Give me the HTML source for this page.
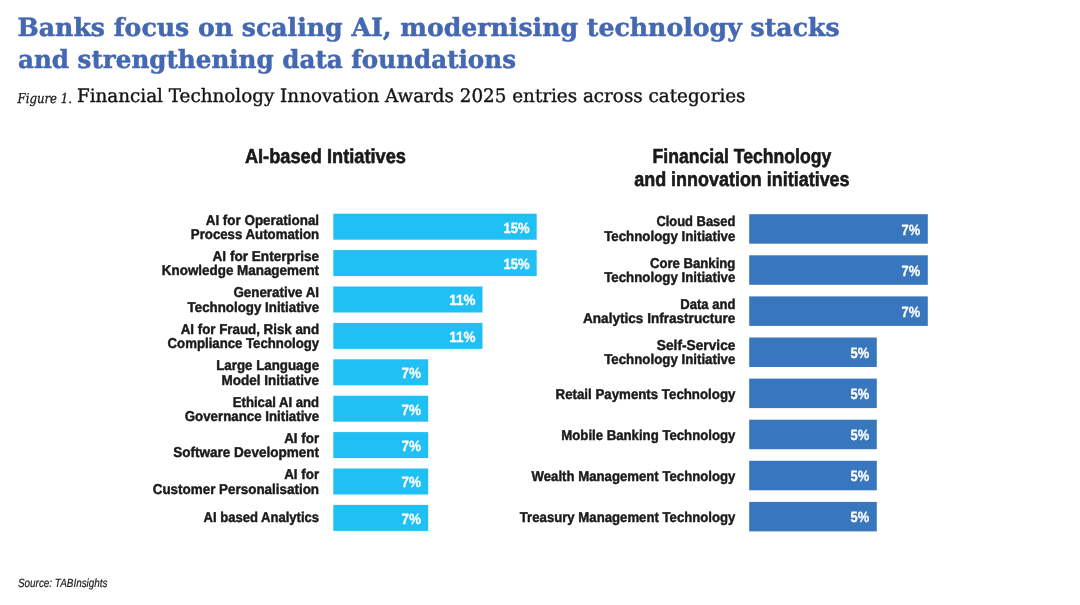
<!DOCTYPE html>
<html lang="en">
<head>
<meta charset="utf-8">
<title>Banks focus on scaling AI</title>
<style>
html,body{margin:0;padding:0;background:#fff;}
body{width:1080px;height:605px;overflow:hidden;}
svg{display:block;}
text{text-rendering:geometricPrecision;}
</style>
</head>
<body>
<svg width="1080" height="605" viewBox="0 0 1080 605">
<rect width="1080" height="605" fill="#ffffff"/>
<text x="17.5" y="36.4" font-family='"DejaVu Serif", "Liberation Serif", serif' font-size="25" font-weight="bold" font-style="normal" fill="#4468b2" text-anchor="start" textLength="822.1" lengthAdjust="spacingAndGlyphs" stroke="#4468b2" stroke-width="0.5" stroke-linejoin="round">Banks focus on scaling AI, modernising technology stacks</text>
<text x="18.0" y="68.4" font-family='"DejaVu Serif", "Liberation Serif", serif' font-size="25" font-weight="bold" font-style="normal" fill="#4468b2" text-anchor="start" textLength="498.0" lengthAdjust="spacingAndGlyphs" stroke="#4468b2" stroke-width="0.5" stroke-linejoin="round">and strengthening data foundations</text>
<text x="17.5" y="102.5" font-family='"DejaVu Serif", "Liberation Serif", serif' font-size="13.5" font-weight="normal" font-style="italic" fill="#1a1a1a" text-anchor="start" textLength="54.5" lengthAdjust="spacingAndGlyphs" stroke="#1a1a1a" stroke-width="0.3" stroke-linejoin="round">Figure 1.</text>
<text x="77.0" y="102.4" font-family='"DejaVu Serif", "Liberation Serif", serif' font-size="18.5" font-weight="normal" font-style="normal" fill="#151515" text-anchor="start" textLength="668.5" lengthAdjust="spacingAndGlyphs" stroke="#151515" stroke-width="0.4" stroke-linejoin="round">Financial Technology Innovation Awards 2025 entries across categories</text>
<text x="244.9" y="163.4" font-family='"Liberation Sans", Arial, sans-serif' font-size="20.3" font-weight="bold" font-style="normal" fill="#1a1a1a" text-anchor="start" textLength="161.1" lengthAdjust="spacingAndGlyphs" stroke="#1a1a1a" stroke-width="0.6" stroke-linejoin="round">AI-based Intiatives</text>
<text x="652.6" y="163.2" font-family='"Liberation Sans", Arial, sans-serif' font-size="20.3" font-weight="bold" font-style="normal" fill="#1a1a1a" text-anchor="start" textLength="178.6" lengthAdjust="spacingAndGlyphs" stroke="#1a1a1a" stroke-width="0.6" stroke-linejoin="round">Financial Technology</text>
<text x="634.2" y="186.0" font-family='"Liberation Sans", Arial, sans-serif' font-size="20.3" font-weight="bold" font-style="normal" fill="#1a1a1a" text-anchor="start" textLength="215.4" lengthAdjust="spacingAndGlyphs" stroke="#1a1a1a" stroke-width="0.6" stroke-linejoin="round">and innovation initiatives</text>
<rect x="333.3" y="213.7" width="203.4" height="26.0" fill="#20c0f4"/>
<text x="205.7" y="224.5" font-family='"Liberation Sans", Arial, sans-serif' font-size="14.2" font-weight="bold" font-style="normal" fill="#1a1a1a" text-anchor="start" textLength="113.4" lengthAdjust="spacingAndGlyphs" stroke="#1a1a1a" stroke-width="0.45" stroke-linejoin="round">AI for Operational</text>
<text x="190.8" y="239.0" font-family='"Liberation Sans", Arial, sans-serif' font-size="14.2" font-weight="bold" font-style="normal" fill="#1a1a1a" text-anchor="start" textLength="128.3" lengthAdjust="spacingAndGlyphs" stroke="#1a1a1a" stroke-width="0.45" stroke-linejoin="round">Process Automation</text>
<text x="503.4" y="232.5" font-family='"Liberation Sans", Arial, sans-serif' font-size="14.8" font-weight="bold" font-style="normal" fill="#fff" text-anchor="start" textLength="26.2" lengthAdjust="spacingAndGlyphs" stroke="#fff" stroke-width="0.3" stroke-linejoin="round">15%</text>
<rect x="333.3" y="250.1" width="203.4" height="26.0" fill="#20c0f4"/>
<text x="212.5" y="260.9" font-family='"Liberation Sans", Arial, sans-serif' font-size="14.2" font-weight="bold" font-style="normal" fill="#1a1a1a" text-anchor="start" textLength="106.6" lengthAdjust="spacingAndGlyphs" stroke="#1a1a1a" stroke-width="0.45" stroke-linejoin="round">AI for Enterprise</text>
<text x="161.8" y="275.4" font-family='"Liberation Sans", Arial, sans-serif' font-size="14.2" font-weight="bold" font-style="normal" fill="#1a1a1a" text-anchor="start" textLength="157.3" lengthAdjust="spacingAndGlyphs" stroke="#1a1a1a" stroke-width="0.45" stroke-linejoin="round">Knowledge Management</text>
<text x="503.4" y="268.9" font-family='"Liberation Sans", Arial, sans-serif' font-size="14.8" font-weight="bold" font-style="normal" fill="#fff" text-anchor="start" textLength="26.2" lengthAdjust="spacingAndGlyphs" stroke="#fff" stroke-width="0.3" stroke-linejoin="round">15%</text>
<rect x="333.3" y="286.5" width="149.2" height="26.0" fill="#20c0f4"/>
<text x="233.4" y="297.3" font-family='"Liberation Sans", Arial, sans-serif' font-size="14.2" font-weight="bold" font-style="normal" fill="#1a1a1a" text-anchor="start" textLength="85.7" lengthAdjust="spacingAndGlyphs" stroke="#1a1a1a" stroke-width="0.45" stroke-linejoin="round">Generative AI</text>
<text x="187.6" y="311.8" font-family='"Liberation Sans", Arial, sans-serif' font-size="14.2" font-weight="bold" font-style="normal" fill="#1a1a1a" text-anchor="start" textLength="131.5" lengthAdjust="spacingAndGlyphs" stroke="#1a1a1a" stroke-width="0.45" stroke-linejoin="round">Technology Initiative</text>
<text x="449.2" y="305.3" font-family='"Liberation Sans", Arial, sans-serif' font-size="14.8" font-weight="bold" font-style="normal" fill="#fff" text-anchor="start" textLength="26.2" lengthAdjust="spacingAndGlyphs" stroke="#fff" stroke-width="0.3" stroke-linejoin="round">11%</text>
<rect x="333.3" y="322.9" width="149.2" height="26.0" fill="#20c0f4"/>
<text x="180.7" y="333.7" font-family='"Liberation Sans", Arial, sans-serif' font-size="14.2" font-weight="bold" font-style="normal" fill="#1a1a1a" text-anchor="start" textLength="138.4" lengthAdjust="spacingAndGlyphs" stroke="#1a1a1a" stroke-width="0.45" stroke-linejoin="round">AI for Fraud, Risk and</text>
<text x="167.6" y="348.2" font-family='"Liberation Sans", Arial, sans-serif' font-size="14.2" font-weight="bold" font-style="normal" fill="#1a1a1a" text-anchor="start" textLength="151.5" lengthAdjust="spacingAndGlyphs" stroke="#1a1a1a" stroke-width="0.45" stroke-linejoin="round">Compliance Technology</text>
<text x="449.2" y="341.7" font-family='"Liberation Sans", Arial, sans-serif' font-size="14.8" font-weight="bold" font-style="normal" fill="#fff" text-anchor="start" textLength="26.2" lengthAdjust="spacingAndGlyphs" stroke="#fff" stroke-width="0.3" stroke-linejoin="round">11%</text>
<rect x="333.3" y="359.3" width="94.9" height="26.0" fill="#20c0f4"/>
<text x="216.2" y="370.1" font-family='"Liberation Sans", Arial, sans-serif' font-size="14.2" font-weight="bold" font-style="normal" fill="#1a1a1a" text-anchor="start" textLength="102.9" lengthAdjust="spacingAndGlyphs" stroke="#1a1a1a" stroke-width="0.45" stroke-linejoin="round">Large Language</text>
<text x="221.6" y="384.6" font-family='"Liberation Sans", Arial, sans-serif' font-size="14.2" font-weight="bold" font-style="normal" fill="#1a1a1a" text-anchor="start" textLength="97.5" lengthAdjust="spacingAndGlyphs" stroke="#1a1a1a" stroke-width="0.45" stroke-linejoin="round">Model Initiative</text>
<text x="401.6" y="378.1" font-family='"Liberation Sans", Arial, sans-serif' font-size="14.8" font-weight="bold" font-style="normal" fill="#fff" text-anchor="start" textLength="19.5" lengthAdjust="spacingAndGlyphs" stroke="#fff" stroke-width="0.3" stroke-linejoin="round">7%</text>
<rect x="333.3" y="395.7" width="94.9" height="26.0" fill="#20c0f4"/>
<text x="232.8" y="406.5" font-family='"Liberation Sans", Arial, sans-serif' font-size="14.2" font-weight="bold" font-style="normal" fill="#1a1a1a" text-anchor="start" textLength="86.3" lengthAdjust="spacingAndGlyphs" stroke="#1a1a1a" stroke-width="0.45" stroke-linejoin="round">Ethical AI and</text>
<text x="184.8" y="421.0" font-family='"Liberation Sans", Arial, sans-serif' font-size="14.2" font-weight="bold" font-style="normal" fill="#1a1a1a" text-anchor="start" textLength="134.3" lengthAdjust="spacingAndGlyphs" stroke="#1a1a1a" stroke-width="0.45" stroke-linejoin="round">Governance Initiative</text>
<text x="401.6" y="414.5" font-family='"Liberation Sans", Arial, sans-serif' font-size="14.8" font-weight="bold" font-style="normal" fill="#fff" text-anchor="start" textLength="19.5" lengthAdjust="spacingAndGlyphs" stroke="#fff" stroke-width="0.3" stroke-linejoin="round">7%</text>
<rect x="333.3" y="432.1" width="94.9" height="26.0" fill="#20c0f4"/>
<text x="284.2" y="442.9" font-family='"Liberation Sans", Arial, sans-serif' font-size="14.2" font-weight="bold" font-style="normal" fill="#1a1a1a" text-anchor="start" textLength="34.9" lengthAdjust="spacingAndGlyphs" stroke="#1a1a1a" stroke-width="0.45" stroke-linejoin="round">AI for</text>
<text x="173.2" y="457.4" font-family='"Liberation Sans", Arial, sans-serif' font-size="14.2" font-weight="bold" font-style="normal" fill="#1a1a1a" text-anchor="start" textLength="145.9" lengthAdjust="spacingAndGlyphs" stroke="#1a1a1a" stroke-width="0.45" stroke-linejoin="round">Software Development</text>
<text x="401.6" y="450.9" font-family='"Liberation Sans", Arial, sans-serif' font-size="14.8" font-weight="bold" font-style="normal" fill="#fff" text-anchor="start" textLength="19.5" lengthAdjust="spacingAndGlyphs" stroke="#fff" stroke-width="0.3" stroke-linejoin="round">7%</text>
<rect x="333.3" y="468.5" width="94.9" height="26.0" fill="#20c0f4"/>
<text x="284.2" y="479.3" font-family='"Liberation Sans", Arial, sans-serif' font-size="14.2" font-weight="bold" font-style="normal" fill="#1a1a1a" text-anchor="start" textLength="34.9" lengthAdjust="spacingAndGlyphs" stroke="#1a1a1a" stroke-width="0.45" stroke-linejoin="round">AI for</text>
<text x="152.7" y="493.8" font-family='"Liberation Sans", Arial, sans-serif' font-size="14.2" font-weight="bold" font-style="normal" fill="#1a1a1a" text-anchor="start" textLength="166.4" lengthAdjust="spacingAndGlyphs" stroke="#1a1a1a" stroke-width="0.45" stroke-linejoin="round">Customer Personalisation</text>
<text x="401.6" y="487.3" font-family='"Liberation Sans", Arial, sans-serif' font-size="14.8" font-weight="bold" font-style="normal" fill="#fff" text-anchor="start" textLength="19.5" lengthAdjust="spacingAndGlyphs" stroke="#fff" stroke-width="0.3" stroke-linejoin="round">7%</text>
<rect x="333.3" y="504.9" width="94.9" height="26.0" fill="#20c0f4"/>
<text x="203.5" y="522.4" font-family='"Liberation Sans", Arial, sans-serif' font-size="14.2" font-weight="bold" font-style="normal" fill="#1a1a1a" text-anchor="start" textLength="115.6" lengthAdjust="spacingAndGlyphs" stroke="#1a1a1a" stroke-width="0.45" stroke-linejoin="round">AI based Analytics</text>
<text x="401.6" y="523.7" font-family='"Liberation Sans", Arial, sans-serif' font-size="14.8" font-weight="bold" font-style="normal" fill="#fff" text-anchor="start" textLength="19.5" lengthAdjust="spacingAndGlyphs" stroke="#fff" stroke-width="0.3" stroke-linejoin="round">7%</text>
<rect x="749.2" y="214.2" width="178.6" height="29.5" fill="#3876be"/>
<text x="656.4" y="226.4" font-family='"Liberation Sans", Arial, sans-serif' font-size="14.2" font-weight="bold" font-style="normal" fill="#1a1a1a" text-anchor="start" textLength="79.0" lengthAdjust="spacingAndGlyphs" stroke="#1a1a1a" stroke-width="0.45" stroke-linejoin="round">Cloud Based</text>
<text x="604.2" y="241.0" font-family='"Liberation Sans", Arial, sans-serif' font-size="14.2" font-weight="bold" font-style="normal" fill="#1a1a1a" text-anchor="start" textLength="131.2" lengthAdjust="spacingAndGlyphs" stroke="#1a1a1a" stroke-width="0.45" stroke-linejoin="round">Technology Initiative</text>
<text x="901.6" y="234.5" font-family='"Liberation Sans", Arial, sans-serif' font-size="14.8" font-weight="bold" font-style="normal" fill="#fff" text-anchor="start" textLength="18.7" lengthAdjust="spacingAndGlyphs" stroke="#fff" stroke-width="0.3" stroke-linejoin="round">7%</text>
<rect x="749.2" y="255.3" width="178.6" height="29.5" fill="#3876be"/>
<text x="649.9" y="267.5" font-family='"Liberation Sans", Arial, sans-serif' font-size="14.2" font-weight="bold" font-style="normal" fill="#1a1a1a" text-anchor="start" textLength="85.5" lengthAdjust="spacingAndGlyphs" stroke="#1a1a1a" stroke-width="0.45" stroke-linejoin="round">Core Banking</text>
<text x="604.2" y="282.1" font-family='"Liberation Sans", Arial, sans-serif' font-size="14.2" font-weight="bold" font-style="normal" fill="#1a1a1a" text-anchor="start" textLength="131.2" lengthAdjust="spacingAndGlyphs" stroke="#1a1a1a" stroke-width="0.45" stroke-linejoin="round">Technology Initiative</text>
<text x="901.6" y="275.6" font-family='"Liberation Sans", Arial, sans-serif' font-size="14.8" font-weight="bold" font-style="normal" fill="#fff" text-anchor="start" textLength="18.7" lengthAdjust="spacingAndGlyphs" stroke="#fff" stroke-width="0.3" stroke-linejoin="round">7%</text>
<rect x="749.2" y="296.4" width="178.6" height="29.5" fill="#3876be"/>
<text x="680.2" y="308.6" font-family='"Liberation Sans", Arial, sans-serif' font-size="14.2" font-weight="bold" font-style="normal" fill="#1a1a1a" text-anchor="start" textLength="55.2" lengthAdjust="spacingAndGlyphs" stroke="#1a1a1a" stroke-width="0.45" stroke-linejoin="round">Data and</text>
<text x="583.0" y="323.2" font-family='"Liberation Sans", Arial, sans-serif' font-size="14.2" font-weight="bold" font-style="normal" fill="#1a1a1a" text-anchor="start" textLength="152.4" lengthAdjust="spacingAndGlyphs" stroke="#1a1a1a" stroke-width="0.45" stroke-linejoin="round">Analytics Infrastructure</text>
<text x="901.6" y="316.7" font-family='"Liberation Sans", Arial, sans-serif' font-size="14.8" font-weight="bold" font-style="normal" fill="#fff" text-anchor="start" textLength="18.7" lengthAdjust="spacingAndGlyphs" stroke="#fff" stroke-width="0.3" stroke-linejoin="round">7%</text>
<rect x="749.2" y="337.5" width="127.6" height="29.5" fill="#3876be"/>
<text x="656.8" y="349.7" font-family='"Liberation Sans", Arial, sans-serif' font-size="14.2" font-weight="bold" font-style="normal" fill="#1a1a1a" text-anchor="start" textLength="78.6" lengthAdjust="spacingAndGlyphs" stroke="#1a1a1a" stroke-width="0.45" stroke-linejoin="round">Self-Service</text>
<text x="604.2" y="364.3" font-family='"Liberation Sans", Arial, sans-serif' font-size="14.2" font-weight="bold" font-style="normal" fill="#1a1a1a" text-anchor="start" textLength="131.2" lengthAdjust="spacingAndGlyphs" stroke="#1a1a1a" stroke-width="0.45" stroke-linejoin="round">Technology Initiative</text>
<text x="850.5" y="357.8" font-family='"Liberation Sans", Arial, sans-serif' font-size="14.8" font-weight="bold" font-style="normal" fill="#fff" text-anchor="start" textLength="18.7" lengthAdjust="spacingAndGlyphs" stroke="#fff" stroke-width="0.3" stroke-linejoin="round">5%</text>
<rect x="749.2" y="378.6" width="127.6" height="29.5" fill="#3876be"/>
<text x="555.6" y="399.0" font-family='"Liberation Sans", Arial, sans-serif' font-size="14.2" font-weight="bold" font-style="normal" fill="#1a1a1a" text-anchor="start" textLength="179.8" lengthAdjust="spacingAndGlyphs" stroke="#1a1a1a" stroke-width="0.45" stroke-linejoin="round">Retail Payments Technology</text>
<text x="850.5" y="398.9" font-family='"Liberation Sans", Arial, sans-serif' font-size="14.8" font-weight="bold" font-style="normal" fill="#fff" text-anchor="start" textLength="18.7" lengthAdjust="spacingAndGlyphs" stroke="#fff" stroke-width="0.3" stroke-linejoin="round">5%</text>
<rect x="749.2" y="419.7" width="127.6" height="29.5" fill="#3876be"/>
<text x="561.3" y="440.1" font-family='"Liberation Sans", Arial, sans-serif' font-size="14.2" font-weight="bold" font-style="normal" fill="#1a1a1a" text-anchor="start" textLength="174.1" lengthAdjust="spacingAndGlyphs" stroke="#1a1a1a" stroke-width="0.45" stroke-linejoin="round">Mobile Banking Technology</text>
<text x="850.5" y="440.0" font-family='"Liberation Sans", Arial, sans-serif' font-size="14.8" font-weight="bold" font-style="normal" fill="#fff" text-anchor="start" textLength="18.7" lengthAdjust="spacingAndGlyphs" stroke="#fff" stroke-width="0.3" stroke-linejoin="round">5%</text>
<rect x="749.2" y="460.8" width="127.6" height="29.5" fill="#3876be"/>
<text x="531.6" y="481.2" font-family='"Liberation Sans", Arial, sans-serif' font-size="14.2" font-weight="bold" font-style="normal" fill="#1a1a1a" text-anchor="start" textLength="203.8" lengthAdjust="spacingAndGlyphs" stroke="#1a1a1a" stroke-width="0.45" stroke-linejoin="round">Wealth Management Technology</text>
<text x="850.5" y="481.1" font-family='"Liberation Sans", Arial, sans-serif' font-size="14.8" font-weight="bold" font-style="normal" fill="#fff" text-anchor="start" textLength="18.7" lengthAdjust="spacingAndGlyphs" stroke="#fff" stroke-width="0.3" stroke-linejoin="round">5%</text>
<rect x="749.2" y="501.9" width="127.6" height="29.5" fill="#3876be"/>
<text x="519.8" y="522.3" font-family='"Liberation Sans", Arial, sans-serif' font-size="14.2" font-weight="bold" font-style="normal" fill="#1a1a1a" text-anchor="start" textLength="215.6" lengthAdjust="spacingAndGlyphs" stroke="#1a1a1a" stroke-width="0.45" stroke-linejoin="round">Treasury Management Technology</text>
<text x="850.5" y="522.2" font-family='"Liberation Sans", Arial, sans-serif' font-size="14.8" font-weight="bold" font-style="normal" fill="#fff" text-anchor="start" textLength="18.7" lengthAdjust="spacingAndGlyphs" stroke="#fff" stroke-width="0.3" stroke-linejoin="round">5%</text>
<text x="18.0" y="587.2" font-family='"Liberation Sans", Arial, sans-serif' font-size="12" font-weight="normal" font-style="italic" fill="#1a1a1a" text-anchor="start" textLength="89.5" lengthAdjust="spacingAndGlyphs" stroke="#1a1a1a" stroke-width="0.2" stroke-linejoin="round">Source: TABInsights</text>
</svg>
</body>
</html>
